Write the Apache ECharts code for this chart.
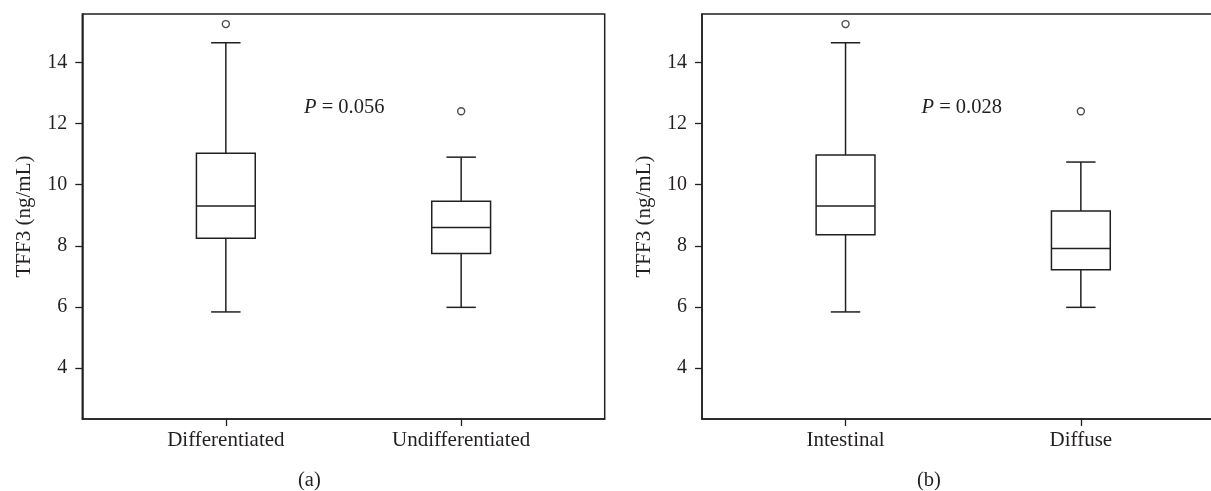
<!DOCTYPE html>
<html>
<head>
<meta charset="utf-8">
<script src="https://cdn.jsdelivr.net/npm/echarts@6/dist/echarts.min.js"></script>
<style>html,body{margin:0;padding:0;background:#fff;}#c{width:1211px;height:491px;}</style>
</head>
<body>
<div id="c"></div>
<script>
// ---- data ----
const catsA = ['Differentiated', 'Undifferentiated'];
const catsB = ['Intestinal', 'Diffuse'];
// [low whisker, Q1, median, Q3, high whisker]
const boxA = [[5.84, 8.25, 9.30, 11.03, 14.64], [5.99, 7.75, 8.60, 9.46, 10.90]];
const boxB = [[5.84, 8.36, 9.30, 10.97, 14.64], [5.99, 7.22, 7.91, 9.14, 10.74]];
const outA = [[1, 15.25], [2, 12.40]];
const outB = [[1, 15.25], [2, 12.40]];
const yTicks = [4, 6, 8, 10, 12, 14];
const pTextA = '0.056';
const pTextB = '0.028';
const panelLabels = ['(a)', '(b)'];
const yName = 'TFF3 (ng/mL)';

const INK = '#231f20';
const FONT = '"Liberation Serif", "DejaVu Serif", serif';

function boxData(box) { return box.map((b, i) => [i + 1].concat(b)); }

function renderBox(params, api) {
  const x = api.value(0);
  const lo = api.coord([x, api.value(1)]);
  const q1 = api.coord([x, api.value(2)]);
  const md = api.coord([x, api.value(3)]);
  const q3 = api.coord([x, api.value(4)]);
  const hi = api.coord([x, api.value(5)]);
  const bw = api.size([1, 0])[0] * 0.25;
  const cx = lo[0];
  const cw = bw / 2;
  const st = { stroke: INK, lineWidth: 1.5, fill: null };
  return {
    type: 'group',
    children: [
      { type: 'line', shape: { x1: cx, y1: hi[1], x2: cx, y2: q3[1] }, style: st },
      { type: 'line', shape: { x1: cx, y1: q1[1], x2: cx, y2: lo[1] }, style: st },
      { type: 'line', shape: { x1: cx - cw / 2, y1: hi[1], x2: cx + cw / 2, y2: hi[1] }, style: st },
      { type: 'line', shape: { x1: cx - cw / 2, y1: lo[1], x2: cx + cw / 2, y2: lo[1] }, style: st },
      { type: 'rect', shape: { x: cx - bw / 2, y: q3[1], width: bw, height: q1[1] - q3[1] }, style: { stroke: INK, lineWidth: 1.5, fill: '#fff' } },
      { type: 'line', shape: { x1: cx - bw / 2, y1: md[1], x2: cx + bw / 2, y2: md[1] }, style: st }
    ]
  };
}

function xAxisFor(cats, gi) {
  return {
    type: 'value', gridIndex: gi, min: 0.39, max: 2.61,
    splitLine: { show: false },
    axisLine: { show: true, onZero: false, lineStyle: { color: INK, width: 1.5 } },
    axisTick: { show: true, length: 7, customValues: [1, 2], lineStyle: { color: INK, width: 1.3 } },
    axisLabel: { customValues: [1, 2], margin: 11, color: INK, fontFamily: FONT, fontSize: 21,
      formatter: v => cats[Math.round(v) - 1] || '' }
  };
}
function yAxisFor(gi) {
  return {
    type: 'value', gridIndex: gi, min: 2.34, max: 15.58,
    name: yName, nameLocation: 'middle', nameGap: 47, nameRotate: 90,
    nameTextStyle: { color: INK, fontFamily: FONT, fontSize: 21 },
    splitLine: { show: false },
    axisLine: { show: true, lineStyle: { color: INK, width: 1.5 } },
    axisTick: { show: true, length: 7, customValues: yTicks, lineStyle: { color: INK, width: 1.3 } },
    axisLabel: { customValues: yTicks, margin: 15, color: INK, fontFamily: FONT, fontSize: 20 }
  };
}

const chart = echarts.init(document.getElementById('c'), null, { renderer: 'canvas' });
chart.setOption({
  animation: false,
  backgroundColor: '#fff',
  textStyle: { fontFamily: FONT },
  grid: [
    { left: 82.3, top: 14, width: 522.4, height: 405, outerBoundsMode: 'none', containLabel: false,
      show: true, borderColor: INK, borderWidth: 1.5, backgroundColor: 'transparent' },
    { left: 702, top: 14, width: 522.4, height: 405, outerBoundsMode: 'none', containLabel: false,
      show: true, borderColor: INK, borderWidth: 1.5, backgroundColor: 'transparent' }
  ],
  xAxis: [xAxisFor(catsA, 0), xAxisFor(catsB, 1)],
  yAxis: [yAxisFor(0), yAxisFor(1)],
  series: [
    { type: 'custom', xAxisIndex: 0, yAxisIndex: 0, renderItem: renderBox, data: boxData(boxA), encode: { x: 0, y: [1, 2, 3, 4, 5] } },
    { type: 'custom', xAxisIndex: 1, yAxisIndex: 1, renderItem: renderBox, data: boxData(boxB), encode: { x: 0, y: [1, 2, 3, 4, 5] } },
    { type: 'scatter', xAxisIndex: 0, yAxisIndex: 0, data: outA, symbol: 'circle', symbolSize: 7,
      itemStyle: { color: '#fff', borderColor: INK, borderWidth: 1.4 } },
    { type: 'scatter', xAxisIndex: 1, yAxisIndex: 1, data: outB, symbol: 'circle', symbolSize: 7,
      itemStyle: { color: '#fff', borderColor: INK, borderWidth: 1.4 } }
  ],
  graphic: [
    { type: 'text', left: 304, top: 97, style: { text: '{i|P} = ' + pTextA, fill: INK, font: '20.5px ' + FONT,
      rich: { i: { fontStyle: 'italic', fontFamily: FONT, fontSize: 20.5, fill: INK } } } },
    { type: 'text', left: 921.5, top: 97, style: { text: '{i|P} = ' + pTextB, fill: INK, font: '20.5px ' + FONT,
      rich: { i: { fontStyle: 'italic', fontFamily: FONT, fontSize: 20.5, fill: INK } } } },
    { type: 'text', left: 298, top: 470, style: { text: panelLabels[0], fill: INK, font: '20.5px ' + FONT } },
    { type: 'text', left: 917, top: 470, style: { text: panelLabels[1], fill: INK, font: '20.5px ' + FONT } }
  ]
});
</script>
</body>
</html>
